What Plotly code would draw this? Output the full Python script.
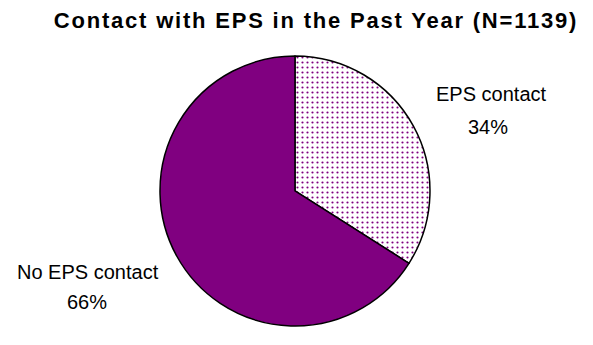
import plotly.graph_objects as go

# Survey result: contact with EPS in the past year
labels = ["EPS contact", "No EPS contact"]
shares = [34, 66]
fills = ["white", "#800080"]
patterns = [".", ""]

W, H = 593, 345

fig = go.Figure(
    go.Pie(
        labels=labels,
        values=shares,
        sort=False,
        direction="clockwise",
        rotation=0,
        textinfo="none",
        hoverinfo="label+percent",
        marker=dict(
            colors=fills,
            line=dict(color="black", width=1.5),
            pattern=dict(shape=patterns, fgcolor="#800080", bgcolor="white",
                         size=5, solidity=0.15),
        ),
        domain=dict(x=[0.2698, 0.7251], y=[0.055, 0.838]),
        showlegend=False,
    )
)

# outside labels: name on the first line, share on the second (pixel centres)
label_pos = {"EPS contact": (491, 94, 488, 127), "No EPS contact": (88, 272, 87, 302)}
lab_font = dict(family="Liberation Sans, Arial", size=20, color="black")
for lab, val in zip(labels, shares):
    x1, y1, x2, y2 = label_pos[lab]
    for text, x, y in ((lab, x1, y1), (f"{val}%", x2, y2)):
        fig.add_annotation(
            x=x / W, y=1 - y / H, xref="paper", yref="paper",
            xanchor="center", yanchor="middle",
            text=text, showarrow=False, font=lab_font,
        )

fig.update_layout(
    width=W, height=H,
    margin=dict(l=0, r=0, t=0, b=0),
    paper_bgcolor="white",
    plot_bgcolor="white",
    title=dict(
        text="<b>Contact with EPS in the Past Year (N=1139)</b>",
        xref="container", yref="container",
        x=316 / W, xanchor="center", y=1 - 20 / H, yanchor="middle",
        font=dict(family="Liberation Sans, Arial", size=22, color="black"),
    ),
)

# the heading is set slightly letter-spaced
fig.write_html(
    "out.html",
    post_script="document.querySelectorAll('.gtitle').forEach(function(e){e.style.letterSpacing='1.8px';});",
)
